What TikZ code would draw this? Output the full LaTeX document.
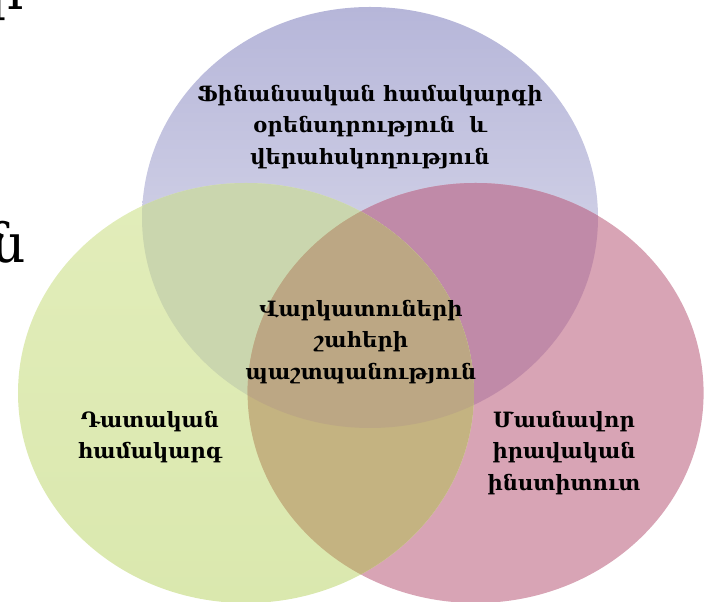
\documentclass[tikz,border=0pt]{standalone}
\usepackage{fontspec}
\setmainfont{DejaVu Serif}

\definecolor{venntop}{RGB}{182,182,217}
\definecolor{vennbot}{RGB}{228,228,240}
\definecolor{vennpink}{RGB}{216,164,181}
\definecolor{venngreentop}{RGB}{226,237,186}
\definecolor{venngreenbot}{RGB}{218,232,174}
\definecolor{bluegreen}{RGB}{202,214,174}
\definecolor{bluepink}{RGB}{192,138,168}
\definecolor{greenpink}{RGB}{196,179,129}
\definecolor{allthree}{RGB}{188,167,132}

\tikzset{
	lbl/.style={align=center, text=black, font=\fontsize{15}{22.4}\selectfont\bfseries},
	frag/.style={text=black, inner sep=0pt, font=\fontsize{38}{40}\selectfont}
}

\def\topring{(9.25,9.6125) ellipse (5.7 and 5.2625)}
\def\rightring{(11.89,5.225) ellipse (5.7 and 5.25)}
\def\leftring{(6.15,5.225) ellipse (5.7 and 5.25)}

\begin{document}
\begin{tikzpicture}
		\useasboundingbox (0,0) rectangle (17.625,15.05);

		% three circles
		\shade[top color=venntop, bottom color=vennbot] \topring;
		\fill[vennpink] \rightring;
		\begin{scope}
			\clip \topring;
			\fill[bluepink] \rightring;
		\end{scope}
		\shade[top color=venngreentop, bottom color=venngreenbot] \leftring;

		% overlaps
		\begin{scope}
			\clip \topring;
			\fill[bluegreen] \leftring;
		\end{scope}
		\begin{scope}
			\clip \rightring;
			\fill[greenpink] \leftring;
		\end{scope}
		\begin{scope}
			\clip \topring;
			\clip \rightring;
			\fill[allthree] \leftring;
		\end{scope}

		% labels
		\node[lbl] (fin) at (9.25,11.875) {Ֆինանսական համակարգի\\օրենսդրություն\ \ և\\վերահսկողություն};
		\node[lbl] (vark) at (9.025,6.5) {Վարկատուների\\շահերի\\պաշտպանություն};
		\node[lbl] (dat) at (3.75,4.125) {Դատական\\համակարգ};
		\node[lbl] (man) at (14.1,3.725) {Մասնավոր\\իրավական\\ինստիտուտ};

		% cut-off letters at the left edge
		\node[frag, anchor=base east] (rfrag) at (0.6,14.8) {ր};
		\node[frag, anchor=base east] (nfrag) at (0.65,8.475) {ն};
	\end{tikzpicture}
\end{document}
